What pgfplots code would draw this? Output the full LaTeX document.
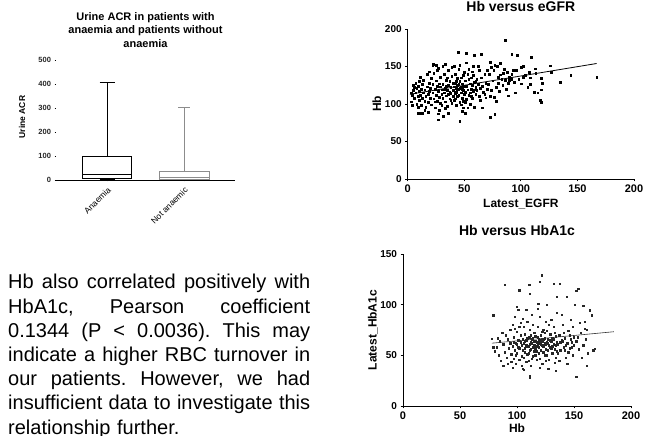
\documentclass[border=0pt]{standalone}
\usepackage{fontspec}
\setmainfont{Liberation Sans}
\usepackage{pgfplots}
\pgfplotsset{compat=1.18}
\usepgfplotslibrary{statistics}

\pgfplotsset{
  gp/.style={
    scale only axis,
    axis lines=left,
    axis line style={-, line width=0.9pt},
    tick align=outside,
    major tick length=2.5pt,
    tick style={black, line width=0.8pt},
    /pgf/number format/assume math mode=true,
    x tick label style={font=\bfseries\fontsize{11}{11}\selectfont},
    y tick label style={font=\bfseries\fontsize{10}{10}\selectfont},
    label style={font=\bfseries\fontsize{12}{12}\selectfont},
    title style={font=\bfseries\fontsize{14}{14}\selectfont, anchor=center, yshift=0pt},
    clip=false,
  },
}

\begin{document}
\begin{tikzpicture}[x=1pt,y=1pt]
\useasboundingbox (0,0) rectangle (656,436);

% box plot, urine ACR
\begin{axis}[
  scale only axis,
  at={(56pt,256pt)}, anchor=south west,
  width=179pt, height=120pt,
  xmin=0, xmax=179, ymin=0, ymax=500,
  axis x line=bottom, axis y line=left,
  x axis line style={-, line width=0.9pt},
  y axis line style={opacity=0},
  tick align=outside,
  major tick length=1.5pt,
  tick style={black, line width=0.6pt},
  xtick={51,128},
  xticklabels={Anaemia, Not anaemic},
  x tick label style={rotate=45, anchor=north east, font=\fontsize{8.5}{8.5}\selectfont},
  ytick={0,100,...,500},
  /pgf/number format/assume math mode=true,
  y tick label style={font=\bfseries\fontsize{7.5}{7.5}\selectfont, text=black!85},
  ylabel={Urine ACR},
  ylabel style={at={(axis description cs:-0.19,0.525)}, anchor=center, font=\bfseries\fontsize{8.5}{8.5}\selectfont},
  title={Urine ACR in patients with\\anaemia and patients without\\anaemia},
  title style={at={(axis description cs:0.5,1.025)}, anchor=south, yshift=0pt, align=center, font=\bfseries\fontsize{11}{13.5}\selectfont},
  clip=false,
]
\addplot[black, line width=1pt, fill=white,
  boxplot prepared={draw direction=y, draw position=51, lower whisker=0,
    lower quartile=7, median=22, upper quartile=96, upper whisker=405,
    box extend=49, whisker extend=15}] coordinates {};
\addplot[black!45, line width=1pt, fill=white,
  boxplot prepared={draw direction=y, draw position=128, lower whisker=0,
    lower quartile=3, median=10, upper quartile=35, upper whisker=300,
    box extend=50, whisker extend=12}] coordinates {};
\end{axis}

% Hb versus eGFR
\begin{axis}[gp,
  at={(407.7pt,257pt)}, anchor=south west,
  width=226.3pt, height=150pt,
  xmin=0, xmax=200, ymin=0, ymax=200,
  xtick={0,50,...,200}, ytick={0,50,...,200},
  title={Hb versus eGFR},
  title style={at={(axis description cs:0.5,1.107)}},
  xlabel={Latest\_EGFR},
  xlabel style={at={(axis description cs:0.5,-0.167)}, anchor=center},
  ylabel={Hb},
  ylabel style={at={(axis description cs:-0.136,0.5)}, anchor=center},
]
\addplot[only marks, mark=square*, mark size=0.85pt, black] coordinates {
(86,185) (44.8,168.8) (51.5,168) (64.8,166.5) (58.6,165) (92,166.5) (97,165)
(109,162) (126,151) (127,142) (135,129) (144,138) (167,136) (112.5,147)
(107.5,142) (113,141) (118,134) (119,128) (108,126) (112,116) (115,115)
(118,119) (118,102) (117,105) (78,104) (76.5,109) (69,108.5) (89,111)
(77,86) (73,82.5) (46,77) (27,79) (27,87) (31.5,83.5) (9,88) (12.7,88)
(18,89) (50.7,88) (102,136) (100,149) (93,145) (84.5,141) (80,136) (90,132)
(92,133) (74,149.5) (70,145) (73,156) (81.6,154) (19,143) (22.7,153) (25,152)
(33,153)
(3,103) (4,112) (5,118) (5,125) (6,108) (7,115) (7,128) (8,100) (8,121)
(9,110) (9,96) (10,117) (10,130) (4,98) (6,122) (3,115) (9,124) (10,105)
(11,112) (11,136) (12,98) (12,120) (13,108) (13,126) (14,115) (14,132)
(15,104) (15,119) (16,96) (16,110) (17,123) (17,140) (18,113) (18,102)
(19,128) (19,117) (20,121) (20,108) (12,88) (15,92)
(21,99) (21,134) (22,115) (22,126) (23,107) (23,141) (24,120) (24,95)
(25,112) (25,131) (26,104) (26,124) (27,117) (27,148) (28,109) (28,127)
(29,101) (29,136) (30,119) (30,113) (22,152) (26,145) (28,92) (24,103) (29,123)
(31,108) (31,126) (32,115) (32,140) (33,103) (33,121) (34,132) (34,111)
(35,118) (35,97) (36,125) (36,145) (37,107) (37,130) (38,114) (38,122)
(39,101) (39,137) (40,118) (40,128) (31,150) (33,94) (35,135) (36,113)
(38,105) (39,149) (32,119) (34,124) (37,116) (40,110) (30,98) (36,88)
(41,105) (41,123) (42,114) (42,140) (43,98) (43,130) (44,119) (44,110)
(45,126) (45,146) (46,102) (46,121) (47,115) (47,135) (48,108) (48,127)
(49,118) (49,95) (50,124) (50,142) (41,150) (43,116) (45,112) (46,130)
(47,99) (48,120) (49,138) (42,107) (44,125) (50,113) (46,152) (48,90)
(42,128) (44,134) (47,122) (49,104) (45,120) (43,121)
(51,116) (51,131) (52,106) (52,124) (53,140) (53,119) (54,112) (54,146)
(55,127) (55,100) (56,120) (56,135) (57,108) (57,125) (58,117) (58,150)
(59,129) (59,96) (60,122) (60,113) (52,155) (54,133) (56,110) (58,138)
(53,95) (55,115) (57,143) (59,119) (51,102) (60,130)
(61,118) (62,126) (63,110) (63,145) (64,121) (65,135) (66,95) (66,124)
(67,116) (68,140) (69,128) (70,120) (62,150) (64,105) (68,113) (61,133)
(71,126) (72,140) (74,118) (75,131) (76,145) (78,122) (79,150) (80,128)
(82,139) (84,125) (85,146) (86,132) (88,142) (89,128) (90,136) (73,110)
(77,152) (81,117) (87,120) (83,133)
(92,140) (94,129) (96,145) (98,133) (100,127) (102,150) (104,138) (106,122)
(108,135) (95,115)
};
\addplot[black, line width=0.8pt] coordinates {(2,113) (167,154)};
\end{axis}

% Hb versus HbA1c
\begin{axis}[gp,
  at={(403pt,30pt)}, anchor=south west,
  width=228pt, height=152pt,
  axis line style={-, line width=0.7pt},
  xmin=0, xmax=200, ymin=0, ymax=150,
  xtick={0,50,...,200}, ytick={0,50,100,150},
  title={Hb versus HbA1c},
  title style={at={(axis description cs:0.5,1.118)}},
  xlabel={Hb},
  xlabel style={at={(axis description cs:0.5,-0.145)}, anchor=center},
  ylabel={Latest\_HbA1c},
  ylabel style={at={(axis description cs:-0.132,0.5)}, anchor=center},
]
\addplot[only marks, mark=square*, mark size=0.65pt, black!85] coordinates {
(121.8,129) (89.3,119.4) (110.7,119.4) (132.4,121) (137.6,121) (120,122.6)
(152,114) (153.7,116) (101.9,114.4) (111,111) (134.7,107.8) (143.5,107.8)
(150.8,100) (158,99) (118.6,101) (126,100) (99.6,98) (165.4,89.7) (164,94.6)
(79,89.7) (168.4,56.7) (166.8,55) (77.6,66.6) (79,58) (80.5,54) (87.8,40)
(111,30) (111,27.7) (152,29) (127.4,37) (134,35) (105,37) (95,43.5)
(159.6,76.5) (159.6,83) (161,40)
(82,58) (84,50) (85,64) (86,45) (88,61) (89,53) (90,70) (91,48) (92,66)
(93,57) (94,75) (95,51) (83,67) (87,72) (92,42) (94,62)
(96,59) (96,80) (97,47) (97,68) (98,55) (98,88) (99,62) (99,42) (100,73)
(100,52) (101,65) (101,95) (102,57) (102,46) (103,70) (103,82) (104,60)
(104,49) (105,66) (105,55) (96,38) (98,76) (100,61) (102,78) (104,40)
(97,63) (99,50) (101,58) (103,63) (105,86)
(106,62) (106,48) (107,71) (107,57) (108,65) (108,44) (109,59) (109,83)
(110,68) (110,52) (111,61) (111,75) (112,56) (112,40) (113,66) (113,90)
(114,58) (114,49) (115,64) (115,72) (106,78) (107,53) (108,60) (109,67)
(110,45) (111,55) (112,70) (113,62) (114,80) (115,54) (106,36) (108,95)
(110,59) (112,63) (114,67) (107,64) (109,51) (111,68) (113,47) (115,60)
(116,57) (116,69) (117,63) (117,46) (118,60) (118,78) (119,66) (119,52)
(120,62) (120,88) (121,55) (121,70) (122,64) (122,42) (123,59) (123,75)
(124,67) (124,50) (125,61) (125,83) (116,64) (117,54) (118,68) (119,58)
(120,47) (121,65) (122,73) (123,53) (124,62) (125,56) (118,96) (120,38)
(122,60) (124,72) (116,50) (119,63) (121,61) (123,66) (125,45) (117,59)
(126,63) (126,74) (127,55) (127,66) (128,60) (128,46) (129,71) (129,58)
(130,64) (130,85) (131,52) (131,67) (132,61) (132,78) (133,56) (133,43)
(134,69) (134,60) (135,63) (135,92) (126,50) (128,80) (130,57) (132,66)
(134,48) (127,62) (129,65) (131,59) (133,72) (135,54)
(136,61) (137,70) (138,55) (139,65) (140,80) (141,58) (142,67) (143,48)
(144,62) (145,74) (146,57) (147,85) (148,63) (149,50) (150,68) (137,45)
(139,90) (141,72) (143,60) (145,53) (147,66) (149,78) (136,52) (138,63)
(142,55) (144,42) (146,70) (148,58) (140,64) (150,60)
(152,64) (154,56) (156,72) (158,60) (160,66) (162,52) (155,82) (157,48)
(161,75) (153,68)
};
\addplot[black!80, line width=0.6pt] coordinates {(78,62) (185,73.3)};
\end{axis}

% paragraph of text, justified line by line
\node[anchor=base west, inner sep=0pt, text width=302pt,
      font=\fontsize{20}{24.2}\selectfont] at (8,147) {%
\hbox to 302pt{Hb\hfill also\hfill correlated\hfill positively\hfill with}
\hbox to 302pt{HbA1c,\hfill Pearson\hfill coefficient}
\hbox to 302pt{0.1344\hfill (P\hfill <\hfill 0.0036).\hfill This\hfill may}
\hbox to 302pt{indicate\hfill a\hfill higher\hfill RBC\hfill turnover\hfill in}
\hbox to 302pt{our\hfill patients.\hfill However,\hfill we\hfill had}
\hbox to 302pt{insufficient\hfill data\hfill to\hfill investigate\hfill this}
\hbox{relationship further.}};
\end{tikzpicture}
\end{document}
